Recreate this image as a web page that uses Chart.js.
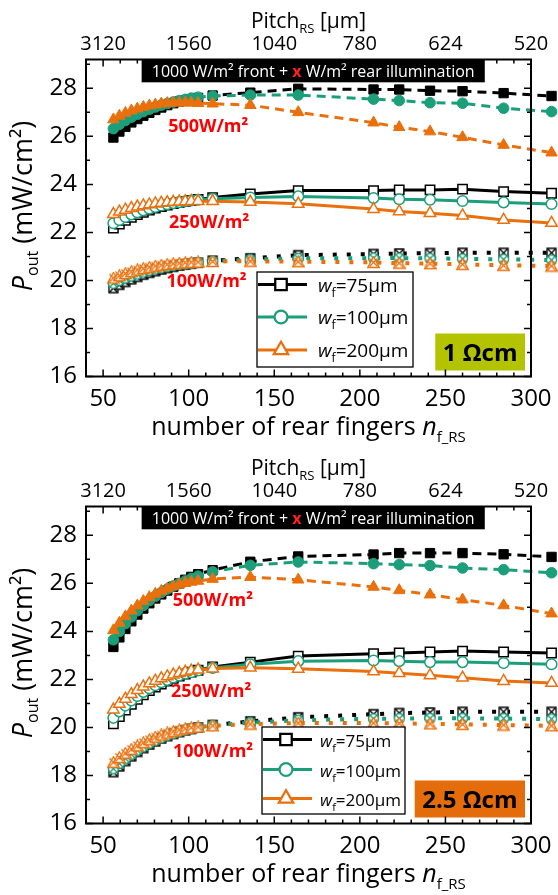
<!DOCTYPE html>
<html>
<head>
<meta charset="utf-8">
<script src="https://cdn.jsdelivr.net/npm/chart.js@4.4.1/dist/chart.umd.min.js"></script>
<style>
  html, body { margin: 0; padding: 0; background: #fff; overflow: hidden; }
  canvas { display: block; }
</style>
</head>
<body>
<canvas id="chart1" width="558" height="447"></canvas>
<canvas id="chart2" width="558" height="448"></canvas>
<script>
// x: number of rear fingers, pitch on the top axis = 156000 µm / n
const nFingers = [56, 59.5, 63, 66.5, 70, 73.5, 77, 80.5, 84, 87.5, 91, 94.5, 98, 101.5, 105.5, 114, 136, 164, 208, 223, 241, 260, 284, 312];
const xTicks = [50, 100, 150, 200, 250, 300];
const yTicks = [16, 18, 20, 22, 24, 26, 28];
const wfLabels = ['75µm', '100µm', '200µm'];
const rearLabels = ['500W/m²', '250W/m²', '100W/m²'];

// 1 Ωcm, P_out in mW/cm² (wf = 75 / 100 / 200 µm)
const r1_500_75  = [25.95, 26.2, 26.4, 26.58, 26.72, 26.86, 26.98, 27.1, 27.2, 27.3, 27.38, 27.45, 27.5, 27.55, 27.6, 27.7, 27.82, 27.98, 27.95, 27.95, 27.9, 27.88, 27.8, 27.68];
const r1_500_100 = [26.32, 26.5, 26.66, 26.8, 26.92, 27.03, 27.13, 27.22, 27.3, 27.37, 27.43, 27.49, 27.54, 27.59, 27.63, 27.68, 27.72, 27.72, 27.55, 27.49, 27.4, 27.38, 27.17, 27.03];
const r1_500_200 = [26.7, 26.85, 26.97, 27.07, 27.15, 27.22, 27.28, 27.32, 27.36, 27.38, 27.4, 27.4, 27.4, 27.4, 27.38, 27.36, 27.3, 27.0, 26.57, 26.38, 26.2, 25.96, 25.64, 25.32];
const r1_250_75  = [22.18, 22.35, 22.5, 22.63, 22.74, 22.84, 22.93, 23.01, 23.08, 23.14, 23.2, 23.25, 23.29, 23.33, 23.37, 23.45, 23.6, 23.74, 23.74, 23.77, 23.77, 23.8, 23.7, 23.63];
const r1_250_100 = [22.38, 22.52, 22.64, 22.75, 22.84, 22.92, 22.99, 23.06, 23.12, 23.17, 23.22, 23.26, 23.3, 23.33, 23.36, 23.4, 23.45, 23.5, 23.43, 23.38, 23.36, 23.31, 23.25, 23.18];
const r1_250_200 = [22.76, 22.86, 22.94, 23.01, 23.07, 23.12, 23.16, 23.2, 23.23, 23.25, 23.27, 23.28, 23.29, 23.3, 23.3, 23.3, 23.27, 23.19, 22.97, 22.87, 22.8, 22.7, 22.52, 22.39];
const r1_100_75  = [19.68, 19.82, 19.94, 20.05, 20.15, 20.24, 20.32, 20.39, 20.46, 20.52, 20.57, 20.62, 20.66, 20.7, 20.74, 20.82, 20.92, 21.05, 21.1, 21.12, 21.14, 21.15, 21.15, 21.15];
const r1_100_100 = [19.88, 20.0, 20.1, 20.19, 20.27, 20.35, 20.42, 20.48, 20.53, 20.58, 20.62, 20.66, 20.69, 20.72, 20.75, 20.8, 20.87, 20.92, 20.93, 20.93, 20.92, 20.9, 20.88, 20.85];
const r1_100_200 = [20.1, 20.2, 20.29, 20.37, 20.44, 20.5, 20.55, 20.6, 20.64, 20.67, 20.7, 20.72, 20.74, 20.76, 20.77, 20.79, 20.8, 20.78, 20.75, 20.72, 20.7, 20.67, 20.63, 20.6];

// 2.5 Ωcm
const r25_500_75  = [23.35, 23.75, 24.1, 24.42, 24.7, 24.95, 25.17, 25.37, 25.54, 25.7, 25.86, 26.0, 26.15, 26.27, 26.38, 26.55, 26.9, 27.12, 27.2, 27.26, 27.26, 27.26, 27.21, 27.1];
const r25_500_100 = [23.65, 24.0, 24.32, 24.6, 24.86, 25.08, 25.28, 25.46, 25.62, 25.76, 25.89, 26.0, 26.1, 26.2, 26.3, 26.48, 26.75, 26.89, 26.82, 26.78, 26.74, 26.64, 26.57, 26.44];
const r25_500_200 = [24.04, 24.35, 24.62, 24.86, 25.07, 25.26, 25.42, 25.56, 25.68, 25.78, 25.87, 25.95, 26.01, 26.06, 26.1, 26.18, 26.26, 26.15, 25.85, 25.71, 25.53, 25.32, 25.08, 24.74];
const r25_250_75  = [20.15, 20.45, 20.72, 20.96, 21.17, 21.36, 21.53, 21.68, 21.81, 21.93, 22.04, 22.14, 22.22, 22.3, 22.38, 22.52, 22.72, 22.97, 23.07, 23.1, 23.14, 23.18, 23.14, 23.1];
const r25_250_100 = [20.4, 20.67, 20.91, 21.12, 21.31, 21.48, 21.63, 21.76, 21.88, 21.98, 22.08, 22.16, 22.24, 22.3, 22.37, 22.48, 22.63, 22.76, 22.79, 22.76, 22.72, 22.72, 22.68, 22.63];
const r25_250_200 = [20.74, 20.98, 21.19, 21.38, 21.55, 21.7, 21.83, 21.94, 22.04, 22.12, 22.2, 22.26, 22.31, 22.36, 22.4, 22.45, 22.49, 22.44, 22.33, 22.26, 22.17, 22.07, 21.93, 21.85];
const r25_100_75  = [18.14, 18.38, 18.6, 18.8, 18.98, 19.14, 19.29, 19.42, 19.54, 19.64, 19.73, 19.81, 19.88, 19.94, 20.0, 20.1, 20.25, 20.42, 20.55, 20.6, 20.62, 20.65, 20.65, 20.65];
const r25_100_100 = [18.28, 18.5, 18.7, 18.88, 19.05, 19.2, 19.34, 19.46, 19.57, 19.67, 19.75, 19.83, 19.89, 19.95, 20.0, 20.08, 20.2, 20.3, 20.36, 20.37, 20.38, 20.38, 20.37, 20.35];
const r25_100_200 = [18.55, 18.75, 18.93, 19.09, 19.24, 19.37, 19.49, 19.6, 19.69, 19.77, 19.84, 19.9, 19.95, 19.99, 20.02, 20.07, 20.14, 20.18, 20.18, 20.17, 20.15, 20.13, 20.1, 20.07];

const FONT = "'Open Sans', 'Noto Sans', sans-serif";
const colors = ['#000000', '#1b9e7a', '#ea700d'];
const shapes = ['rect', 'circle', 'triangle'];
const radii = [6.6, 5.3, 6.6];
const FRAME_RIGHT = 531; // pixel where n = 300 sits (data runs past the frame)
Chart.defaults.font.family = FONT;
Chart.defaults.color = '#000';

// white marker with an x across it (100 W/m² series)
function crossMarker(shape, color) {
  const s = 13;
  const c = document.createElement('canvas');
  c.width = s; c.height = s;
  const g = c.getContext('2d');
  g.strokeStyle = color; g.fillStyle = '#fff'; g.lineWidth = 1.3;
  g.beginPath();
  if (shape === 'rect') g.rect(2, 2, s - 4, s - 4);
  else if (shape === 'circle') g.arc(s / 2, s / 2, s / 2 - 1.5, 0, Math.PI * 2);
  else { g.moveTo(s / 2, 0.8); g.lineTo(s - 0.8, s - 1.5); g.lineTo(0.8, s - 1.5); g.closePath(); }
  g.fill(); g.stroke();
  g.beginPath();
  g.moveTo(2.5, 2.5); g.lineTo(s - 2.5, s - 2.5);
  g.moveTo(s - 2.5, 2.5); g.lineTo(2.5, s - 2.5);
  g.stroke();
  return c;
}

function makeSet(values, k, kind) {
  const col = colors[k];
  const ds = {
    data: nFingers.map((n, i) => ({x: n, y: values[i]})),
    borderColor: col,
    pointStyle: shapes[k],
    pointRadius: radii[k],
    pointBorderColor: col,
    order: 3 - k,
    clip: false,
    tension: 0
  };
  if (kind === 500) {
    ds.borderWidth = 3; ds.borderDash = [9, 6];
    ds.pointBackgroundColor = col; ds.pointBorderWidth = 1;
  } else if (kind === 250) {
    ds.borderWidth = 3;
    ds.pointBackgroundColor = '#fff'; ds.pointBorderWidth = 1.5;
  } else {
    ds.borderWidth = 4; ds.borderDash = [4, 10];
    ds.pointStyle = crossMarker(shapes[k], col);
  }
  return ds;
}

function drawRich(ctx, parts, x, y) {
  parts.forEach(p => {
    ctx.font = p.font;
    ctx.fillStyle = p.color || '#000';
    ctx.fillText(p.t, x, y + (p.dy || 0));
    x += ctx.measureText(p.t).width;
  });
  return x;
}
function richWidth(ctx, parts) {
  let w = 0;
  parts.forEach(p => { ctx.font = p.font; w += ctx.measureText(p.t).width; });
  return w;
}

const decor = {
  id: 'decor',
  afterDatasetsDraw(chart, args, o) {
    const ctx = chart.ctx;
    const x = chart.scales.x, y = chart.scales.y;
    const a = chart.chartArea;
    const xr = x.getPixelForValue(300);
    ctx.save();

    // red irradiance labels
    ctx.font = 'bold 18px ' + FONT;
    ctx.fillStyle = '#ff0000';
    ctx.textBaseline = 'middle';
    o.labelPos.forEach((p, i) => ctx.fillText(rearLabels[i], x.getPixelForValue(p[0]), y.getPixelForValue(p[1])));
    ctx.textBaseline = 'alphabetic';

    // legend
    const L = o.legend;
    ctx.fillStyle = '#fff';
    ctx.fillRect(L.left, L.top, L.w, L.h);
    ctx.strokeStyle = '#000'; ctx.lineWidth = 1.3;
    ctx.strokeRect(L.left, L.top, L.w, L.h);
    L.rows.forEach((ry, k) => {
      const yy = L.top + ry;
      ctx.strokeStyle = colors[k]; ctx.lineWidth = 3;
      ctx.beginPath(); ctx.moveTo(L.left + 1, yy); ctx.lineTo(L.left + 50, yy); ctx.stroke();
      Chart.helpers.drawPoint(ctx, {pointStyle: shapes[k], radius: radii[k] * 1.15, borderWidth: 1.5}, L.left + 24, yy);
      ctx.fillStyle = '#fff'; ctx.fill(); ctx.lineWidth = 1.5; ctx.stroke();
      drawRich(ctx, [
        {t: 'w', font: 'italic ' + L.fs + 'px ' + FONT},
        {t: 'f', font: Math.round(L.fs * 0.62) + 'px ' + FONT, dy: 5},
        {t: '=' + wfLabels[k], font: L.fs + 'px ' + FONT}
      ], L.left + L.tx, yy + 7);
    });

    // banner
    const b0 = x.getPixelForValue(72.5), b1 = x.getPixelForValue(273);
    const bb = y.getPixelForValue(28.25);
    ctx.fillStyle = '#000';
    ctx.fillRect(b0, a.top, b1 - b0, bb - a.top);
    const bParts = [
      {t: '1000 W/m² front + ', font: '16px ' + FONT, color: '#fff'},
      {t: 'x', font: 'bold 16px ' + FONT, color: '#ff2020'},
      {t: ' W/m² rear illumination', font: '16px ' + FONT, color: '#fff'}
    ];
    const bw = richWidth(ctx, bParts);
    drawRich(ctx, bParts, (b0 + b1 - bw) / 2, (a.top + bb) / 2 + 6);

    // resistivity box
    ctx.font = 'bold 24px ' + FONT;
    const rw = ctx.measureText(o.resist).width + 15;
    ctx.fillStyle = o.resistColor;
    ctx.fillRect(xr - 6 - rw, a.bottom - 43, rw, 37);
    ctx.fillStyle = '#000';
    ctx.textAlign = 'center';
    ctx.fillText(o.resist, xr - 6 - rw / 2, a.bottom - 16);
    ctx.textAlign = 'left';

    // frame and inward ticks
    ctx.strokeStyle = '#000';
    ctx.lineWidth = 1.5;
    ctx.beginPath();
    for (let v = 40; v <= 300; v += 10) {
      const px = x.getPixelForValue(v);
      const len = v % 50 === 0 ? 7 : 4;
      ctx.moveTo(px, a.bottom); ctx.lineTo(px, a.bottom - len);
      ctx.moveTo(px, a.top); ctx.lineTo(px, a.top + len);
    }
    for (let v = 16; v <= 29; v += 1) {
      const py = y.getPixelForValue(v);
      const len = v % 2 === 0 ? 7 : 4;
      ctx.moveTo(a.left, py); ctx.lineTo(a.left + len, py);
      ctx.moveTo(xr, py); ctx.lineTo(xr - len, py);
    }
    ctx.stroke();
    ctx.lineWidth = 2;
    ctx.strokeRect(a.left, a.top, xr - a.left, a.bottom - a.top);
    ctx.restore();
  },
  afterDraw(chart) {
    const ctx = chart.ctx;
    const a = chart.chartArea;
    const cx = (a.left + chart.scales.x.getPixelForValue(300)) / 2;
    ctx.save();
    const top = [
      {t: 'Pitch', font: '21px ' + FONT},
      {t: 'RS', font: '13px ' + FONT, dy: 5},
      {t: ' [µm]', font: '21px ' + FONT}
    ];
    drawRich(ctx, top, cx - richWidth(ctx, top) / 2, 28);
    const bot = [
      {t: 'number of rear fingers ', font: '25px ' + FONT},
      {t: 'n', font: 'italic 25px ' + FONT},
      {t: 'f_RS', font: '15px ' + FONT, dy: 7}
    ];
    drawRich(ctx, bot, cx - richWidth(ctx, bot) / 2, a.bottom + 58);
    ctx.translate(32, (a.top + a.bottom) / 2 - 12);
    ctx.rotate(-Math.PI / 2);
    const yl = [
      {t: 'P', font: 'italic 27px ' + FONT},
      {t: 'out', font: '16px ' + FONT, dy: 6},
      {t: ' (mW/cm²)', font: '27px ' + FONT}
    ];
    drawRich(ctx, yl, -richWidth(ctx, yl) / 2, 0);
    ctx.restore();
  }
};

function makeChart(id, sets, opts) {
  const canvas = document.getElementById(id);
  const H = canvas.height;
  const kinds = [500, 250, 100];
  const datasets = [];
  sets.forEach((grp, g) => grp.forEach((vals, k) => datasets.push(makeSet(vals, k, kinds[g]))));
  const fitX = h => s => { s.height = h; s.paddingLeft = 0; s.paddingRight = 0; };
  const chart = new Chart(canvas.getContext('2d'), {
    type: 'line',
    data: {datasets: datasets},
    plugins: [decor],
    options: {
      responsive: false,
      animation: false,
      devicePixelRatio: 1,
      events: [],
      layout: {padding: 0},
      plugins: {legend: {display: false}, tooltip: {enabled: false}, decor: opts},
      scales: {
        x: {
          type: 'linear', position: 'bottom', min: 40, max: 315.8,
          grid: {display: false, drawTicks: false}, border: {display: false},
          ticks: {font: {size: 24}, padding: 8, maxRotation: 0, callback: v => String(v)},
          afterBuildTicks: s => { s.ticks = xTicks.map(v => ({value: v})); },
          afterFit: fitX(H - 376.5)
        },
        x2: {
          type: 'linear', position: 'top', min: 40, max: 315.8,
          grid: {display: false, drawTicks: false}, border: {display: false},
          ticks: {font: {size: 20}, padding: 3, maxRotation: 0, callback: v => String(Math.round(156000 / v))},
          afterBuildTicks: s => { s.ticks = xTicks.map(v => ({value: v})); },
          afterFit: fitX(59.5)
        },
        y: {
          type: 'linear', min: 16, max: 29.2,
          grid: {display: false, drawTicks: false}, border: {display: false},
          ticks: {font: {size: 24}, padding: 9},
          afterBuildTicks: s => { s.ticks = yTicks.map(v => ({value: v})); },
          afterFit: s => { s.width = 86; }
        }
      }
    }
  });
  // stretch the x range so that n = 300 lands on the frame position
  for (let i = 0; i < 3; i++) {
    const a = chart.chartArea;
    const max = 40 + (a.right - a.left) * 260 / (FRAME_RIGHT - a.left);
    chart.options.scales.x.max = max;
    chart.options.scales.x2.max = max;
    chart.update();
  }
  return chart;
}

makeChart('chart1', [
  [r1_500_75, r1_500_100, r1_500_200],
  [r1_250_75, r1_250_100, r1_250_200],
  [r1_100_75, r1_100_100, r1_100_200]
], {
  resist: '1 Ωcm', resistColor: '#b3c300',
  labelPos: [[88, 26.4], [88.5, 22.4], [87, 19.95]],
  legend: {left: 257, top: 272, w: 156, h: 95, rows: [12.5, 45, 78], fs: 19, tx: 61}
});

makeChart('chart2', [
  [r25_500_75, r25_500_100, r25_500_200],
  [r25_250_75, r25_250_100, r25_250_200],
  [r25_100_75, r25_100_100, r25_100_200]
], {
  resist: '2.5 Ωcm', resistColor: '#e46c0a',
  labelPos: [[90.7, 25.26], [89.7, 21.47], [90.8, 19.0]],
  legend: {left: 262, top: 280, w: 143, h: 87, rows: [12.5, 42.5, 71.5], fs: 17, tx: 58}
});
</script>
</body>
</html>
